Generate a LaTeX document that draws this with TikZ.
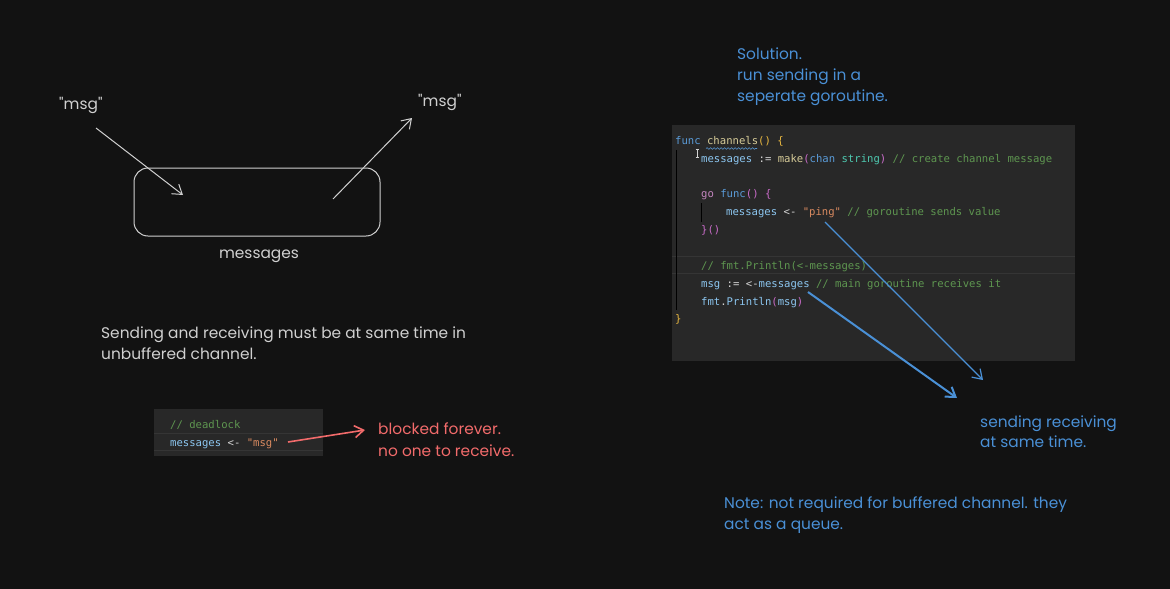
\documentclass[tikz,border=0pt]{standalone}
\usepackage{fontspec}
\newfontfamily\handfont{Poppins}
\newfontfamily\codefont{DejaVu Sans Mono}
\usetikzlibrary{arrows.meta,decorations.pathmorphing}
\definecolor{bg}{HTML}{121212}
\definecolor{panel}{HTML}{282828}
\definecolor{panelline}{HTML}{353535}
\definecolor{sketch}{HTML}{D0D0D0}
\definecolor{hand}{HTML}{4A90D6}
\definecolor{redhand}{HTML}{F26B6B}
\definecolor{ckw}{HTML}{5A9BD8}
\definecolor{cfn}{HTML}{D6CB98}
\definecolor{cbr}{HTML}{E8B740}
\definecolor{cvar}{HTML}{8CC6F0}
\definecolor{cpu}{HTML}{C86BC8}
\definecolor{cty}{HTML}{4EC9B0}
\definecolor{ccm}{HTML}{5E9650}
\definecolor{cgo}{HTML}{C586C0}
\definecolor{cstr}{HTML}{D98A60}
\definecolor{cop}{HTML}{D4D4D4}
\tikzset{
  handtext/.style={anchor=mid west,inner sep=0pt,yshift=-3pt,font=\handfont\fontsize{15.4}{18}\selectfont},
  codetext/.style={anchor=mid west,inner sep=0pt,yshift=-2pt,text=cop,font=\codefont\fontsize{10.6}{12}\selectfont},
  sketcharrow/.style={draw=sketch,line width=1pt,-{Straight Barb[length=9pt,width=12pt]}},
  bluearrow/.style={draw=hand,-{Straight Barb[length=9pt,width=12pt]}},
}
\begin{document}
\begin{tikzpicture}[x=1pt,y=-1pt]
\useasboundingbox[fill=bg] (0,0) rectangle (1170,589);

% ---------- left sketch ----------
\node[handtext,text=sketch] (msgin) at (59,104) {"msg"};
\node[handtext,text=sketch] (msgout) at (418,101) {"msg"};
\node[draw=sketch,line width=1pt,rounded corners=14pt,minimum width=246pt,minimum height=68pt] (box) at (257,202) {};
\node[handtext,text=sketch,anchor=center] (boxlabel) at (259,253) {messages};
\coordinate (a1s) at (96,128);
\coordinate (a1e) at (183,195);
\coordinate (a2s) at (333,199);
\coordinate (a2e) at (412,118);
\draw[sketcharrow] (a1s) -- (a1e);
\draw[sketcharrow] (a2s) -- (a2e);

\node[handtext,text=sketch] (t1) at (101,333) {Sending and receiving must be at same time in};
\node[handtext,text=sketch] (t2) at (101,354) {unbuffered channel.};

% ---------- deadlock snippet ----------
\fill[panel] (154,409) rectangle (323,456);
\draw[panelline] (154,433) -- (323,433);
\draw[panelline] (154,450) -- (323,450);
\node[codetext] (dl1) at (170,424) {\textcolor{ccm}{// deadlock}};
\node[codetext] (dl2) at (170,442) {\textcolor{cvar}{messages} <- \textcolor{cstr}{"msg"}};
\coordinate (ra) at (288,442);
\coordinate (rb) at (365,430);
\draw[draw=redhand,line width=1.6pt,-{Straight Barb[length=9pt,width=12pt]}] (ra) -- (rb);
\node[handtext,text=redhand] (bl1) at (378,429) {blocked forever.};
\node[handtext,text=redhand] (bl2) at (378,451) {no one to receive.};

% ---------- solution ----------
\node[handtext,text=hand] (s1) at (737,54) {Solution.};
\node[handtext,text=hand] (s2) at (737,75) {run sending in a};
\node[handtext,text=hand] (s3) at (737,96) {seperate goroutine.};

\fill[panel] (672,125) rectangle (1075,361);
\draw[panelline] (672,256) -- (1075,256);
\draw[panelline] (672,273) -- (1075,273);
\draw[draw=panelline!150] (676,150) -- (676,310);
\draw[draw=panelline!150] (701,203) -- (701,222);
% cursor
\draw[cop,line width=0.6pt] (697,149) -- (697,157) (695.5,149) -- (698.5,149) (695.5,157) -- (698.5,157);

\node[codetext] (c1) at (675,140) {\textcolor{ckw}{func} \textcolor{cfn}{channels}\textcolor{cbr}{() \{}};
\draw[ckw,line width=0.6pt,decorate,decoration={snake,segment length=3.5pt,amplitude=0.8pt}] (706,148.5) -- (757,148.5);
\node[codetext] (c2) at (701,158) {\textcolor{cvar}{messages} := \textcolor{cfn}{make}\textcolor{cpu}{(}\textcolor{ckw}{chan} \textcolor{cty}{string}\textcolor{cpu}{)} \textcolor{ccm}{// create channel message}};
\node[codetext] (c3) at (701,193) {\textcolor{cgo}{go} \textcolor{ckw}{func}\textcolor{cpu}{() \{}};
\node[codetext] (c4) at (726,211) {\textcolor{cvar}{messages} <- \textcolor{cstr}{"ping"} \textcolor{ccm}{// goroutine sends value}};
\node[codetext] (c5) at (701,229) {\textcolor{cpu}{\}()}};
\node[codetext] (c6) at (701,265) {\textcolor{ccm}{// fmt.Println(<-messages)}};
\node[codetext] (c7) at (701,283) {\textcolor{cvar}{msg} := <-\textcolor{cvar}{messages} \textcolor{ccm}{// main goroutine receives it}};
\node[codetext] (c8) at (701,301) {\textcolor{cvar}{fmt}.\textcolor{cvar}{Println}\textcolor{cpu}{(}\textcolor{cvar}{msg}\textcolor{cpu}{)}};
\node[codetext] (c9) at (675,318) {\textcolor{cbr}{\}}};

\coordinate (b1s) at (825,222);
\coordinate (b1e) at (983,380);
\coordinate (b2s) at (808,292);
\coordinate (b2e) at (957,398);
\draw[bluearrow,line width=1.2pt] (b1s) -- (b1e);
\draw[bluearrow,line width=2pt] (b2s) -- (b2e);

\node[handtext,text=hand] (r1) at (980,422) {sending receiving};
\node[handtext,text=hand] (r2) at (980,442) {at same time.};

\node[handtext,text=hand] (n1) at (724,503) {Note: not required for buffered channel. they};
\node[handtext,text=hand] (n2) at (724,524) {act as a queue.};
\end{tikzpicture}
\end{document}
